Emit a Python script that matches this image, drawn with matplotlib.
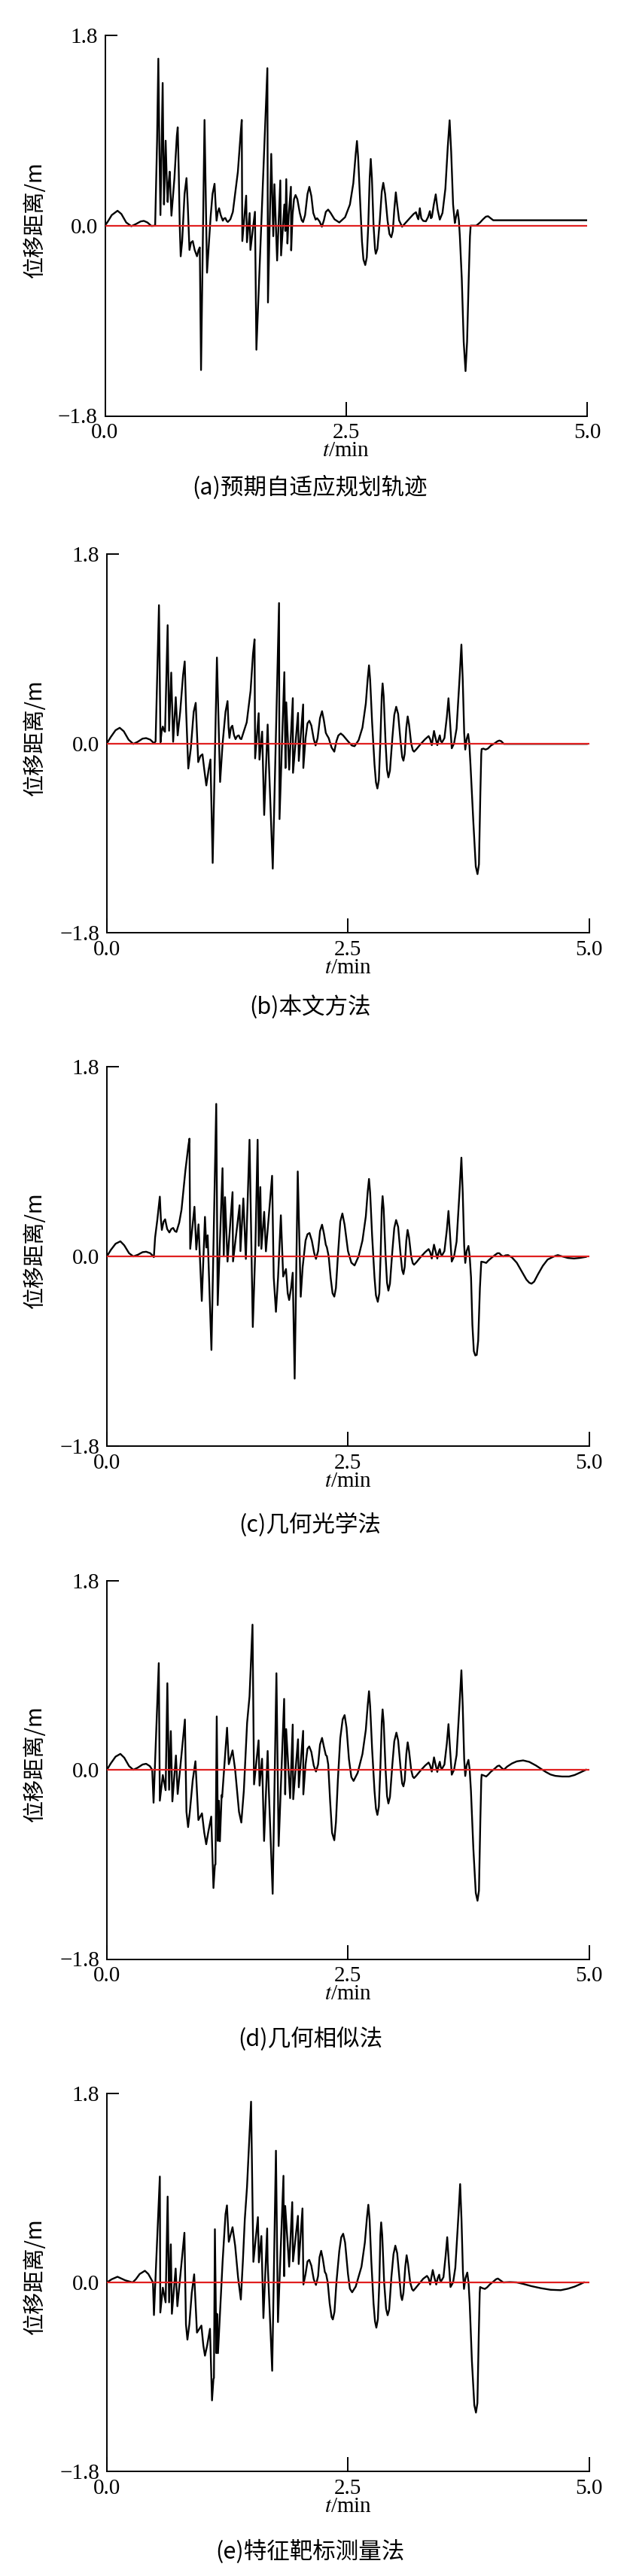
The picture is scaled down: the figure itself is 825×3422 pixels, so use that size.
import matplotlib
matplotlib.use("Agg")
import matplotlib.pyplot as plt
from matplotlib.ticker import FixedLocator, FixedFormatter

plt.rcParams['font.family'] = ['Liberation Serif', 'Noto Sans CJK SC', 'DejaVu Sans']
plt.rcParams['mathtext.fontset'] = 'stix'
plt.rcParams['axes.unicode_minus'] = True

# ---------------- data: (t / min, displacement / m) ----------------
pts_a = [(0.000,0.000),(0.030,0.040),(0.070,0.100),(0.130,0.141),(0.170,0.110),(0.220,0.030),(0.273,-0.005),
 (0.320,0.015),(0.370,0.040),(0.403,0.045),(0.440,0.030),(0.481,-0.003),(0.520,0.000),(0.540,0.800),(0.553,1.580),
 (0.563,0.800),(0.575,0.100),(0.586,0.700),(0.598,1.350),(0.605,0.700),(0.612,0.200),(0.620,0.500),(0.629,0.804),
 (0.640,0.450),(0.650,0.224),(0.660,0.400),(0.671,0.511),(0.680,0.300),(0.689,0.094),(0.720,0.450),(0.745,0.850),
 (0.754,0.930),(0.765,0.500),(0.775,0.000),(0.785,-0.290),(0.800,-0.150),(0.825,0.300),(0.845,0.450),(0.858,0.200),
 (0.876,-0.230),(0.892,-0.160),(0.910,-0.146),(0.930,-0.230),(0.954,-0.290),(0.970,-0.230),(0.983,-0.206),
 (0.996,-1.366),(1.032,1.000),(1.058,-0.445),(1.075,-0.200),(1.095,0.080),(1.115,0.300),(1.136,0.396),(1.147,0.200),
 (1.157,0.047),(1.170,0.130),(1.183,0.165),(1.200,0.100),(1.222,0.047),(1.235,0.068),(1.248,0.072),(1.262,0.045),
 (1.274,0.035),(1.300,0.060),(1.326,0.130),(1.378,0.510),(1.405,0.850),(1.418,1.000),(1.424,-0.146),(1.464,0.284),
 (1.472,-0.157),(1.500,0.119),(1.508,-0.230),(1.555,0.131),(1.570,-1.174),(1.684,1.490),(1.690,-0.727),(1.724,0.679),
 (1.745,-0.100),(1.757,0.392),(1.785,-0.330),(1.818,0.428),(1.826,-0.282),(1.860,0.200),(1.870,-0.050),(1.880,0.440),
 (1.892,-0.169),(1.905,0.100),(1.928,0.368),(1.931,-0.234),(1.945,0.100),(1.960,0.250),(1.976,0.290),(1.995,0.250),
 (2.020,0.120),(2.040,0.050),(2.054,0.034),(2.075,0.100),(2.100,0.300),(2.119,0.367),(2.140,0.280),(2.160,0.120),
 (2.184,0.057),(2.200,0.070),(2.225,0.040),(2.249,-0.010),(2.270,0.050),(2.290,0.130),(2.314,0.152),(2.340,0.120),
 (2.380,0.060),(2.430,0.030),(2.490,0.080),(2.540,0.200),(2.575,0.400),(2.600,0.680),(2.613,0.801),(2.625,0.650),
 (2.645,0.250),(2.665,-0.150),(2.680,-0.320),(2.699,-0.373),(2.715,-0.300),(2.730,0.000),(2.745,0.450),(2.756,0.631),
 (2.768,0.450),(2.785,0.000),(2.800,-0.220),(2.808,-0.266),(2.825,-0.220),(2.850,0.050),(2.870,0.320),(2.886,0.405),
 (2.905,0.300),(2.930,0.050),(2.950,-0.080),(2.969,-0.110),(2.985,-0.050),(3.000,0.150),(3.016,0.315),(3.030,0.200),
 (3.050,0.050),(3.081,-0.010),(3.120,0.030),(3.160,0.070),(3.200,0.110),(3.225,0.127),(3.240,0.080),(3.250,0.060),
 (3.265,0.165),(3.280,0.070),(3.300,0.045),(3.328,0.041),(3.350,0.080),(3.369,0.137),(3.380,0.070),(3.390,0.080),
 (3.410,0.200),(3.430,0.296),(3.450,0.150),(3.472,0.057),(3.500,0.120),(3.530,0.350),(3.555,0.750),(3.574,0.997),
 (3.590,0.700),(3.610,0.200),(3.628,0.025),(3.640,0.080),(3.657,0.147),(3.670,0.050),(3.680,-0.100),(3.700,-0.500),
 (3.720,-1.100),(3.739,-1.376),(3.755,-1.100),(3.772,-0.500),(3.785,-0.100),(3.792,0.000),(3.820,0.000),(3.850,0.000),
 (3.890,0.030),(3.920,0.060),(3.950,0.085),(3.973,0.089),(4.000,0.070),(4.026,0.051),(5.000,0.051)]

pts_b = [(0.000,0.000),(0.040,0.060),(0.090,0.125),(0.133,0.148),(0.175,0.115),(0.225,0.035),(0.274,-0.005),
 (0.320,0.015),(0.370,0.045),(0.407,0.050),(0.450,0.035),(0.490,0.000),(0.505,0.020),(0.540,1.314),(0.556,0.010),
 (0.568,0.120),(0.580,0.160),(0.592,0.120),(0.603,0.110),(0.630,1.124),(0.645,0.120),(0.667,0.673),(0.687,0.015),
 (0.714,0.439),(0.734,0.076),(0.760,0.300),(0.790,0.650),(0.807,0.779),(0.822,0.300),(0.844,-0.239),(0.870,-0.050),
 (0.900,0.300),(0.921,0.385),(0.947,-0.178),(0.970,-0.120),(0.991,-0.104),(1.010,-0.250),(1.031,-0.400),
 (1.055,-0.250),(1.074,-0.153),(1.097,-1.137),(1.141,0.816),(1.174,-0.367),(1.200,0.000),(1.230,0.300),(1.251,0.402),
 (1.262,0.150),(1.271,0.052),(1.286,0.150),(1.301,0.168),(1.318,0.080),(1.334,0.040),(1.352,0.070),(1.368,0.076),
 (1.382,0.045),(1.394,0.040),(1.450,0.200),(1.490,0.500),(1.515,0.850),(1.531,0.989),(1.537,-0.143),(1.574,0.287),
 (1.582,-0.155),(1.610,0.112),(1.631,-0.681),(1.667,0.179),(1.678,-0.139),(1.720,-1.191),(1.785,1.334),(1.790,-0.720),
 (1.840,0.677),(1.852,-0.234),(1.860,0.390),(1.890,-0.250),(1.928,0.430),(1.930,-0.280),(1.982,0.290),(1.990,-0.167),
 (2.035,0.370),(2.037,-0.234),(2.060,0.050),(2.080,0.190),(2.099,0.215),(2.120,0.170),(2.145,0.040),(2.164,-0.020),
 (2.185,0.050),(2.210,0.240),(2.231,0.306),(2.250,0.220),(2.270,0.100),(2.281,0.080),(2.300,0.050),(2.330,-0.040),
 (2.358,-0.079),(2.380,0.020),(2.400,0.075),(2.425,0.094),(2.450,0.075),(2.500,0.020),(2.540,-0.020),(2.568,-0.027),
 (2.610,0.030),(2.650,0.150),(2.685,0.380),(2.705,0.620),(2.718,0.742),(2.730,0.600),(2.750,0.200),(2.775,-0.200),
 (2.790,-0.370),(2.805,-0.429),(2.820,-0.350),(2.835,0.000),(2.850,0.450),(2.859,0.570),(2.870,0.450),(2.890,0.000),
 (2.905,-0.250),(2.919,-0.323),(2.935,-0.260),(2.960,0.050),(2.980,0.270),(3.000,0.348),(3.020,0.280),(3.045,0.020),
 (3.062,-0.130),(3.075,-0.165),(3.088,-0.100),(3.105,0.150),(3.119,0.256),(3.133,0.180),(3.155,0.000),(3.172,-0.065),
 (3.185,-0.079),(3.210,-0.055),(3.250,-0.010),(3.300,0.040),(3.336,0.069),(3.352,0.040),(3.369,-0.017),(3.380,0.050),
 (3.392,0.118),(3.408,0.050),(3.426,-0.017),(3.440,0.040),(3.452,0.076),(3.463,0.020),(3.475,0.010),(3.500,0.050),
 (3.525,0.250),(3.542,0.429),(3.558,0.200),(3.576,-0.047),(3.600,0.000),(3.626,0.140),(3.659,0.650),(3.676,0.939),
 (3.690,0.600),(3.705,0.100),(3.716,-0.059),(3.730,0.040),(3.746,0.089),(3.758,0.000),(3.770,-0.200),(3.800,-0.750),
 (3.825,-1.170),(3.843,-1.243),(3.858,-1.150),(3.872,-0.500),(3.882,-0.100),(3.886,-0.054),(3.905,-0.050),
 (3.926,-0.059),(3.950,-0.050),(3.983,-0.020),(4.020,0.000),(4.050,0.020),(4.070,0.027),(4.090,0.020),(4.116,-0.005),
 (4.977,-0.005)]

pts_c = [(0.000,0.000),(0.040,0.060),(0.090,0.120),(0.140,0.143),(0.180,0.105),(0.230,0.030),(0.274,0.000),
 (0.320,0.015),(0.370,0.040),(0.407,0.044),(0.450,0.030),(0.487,-0.007),(0.500,0.180),(0.523,0.347),(0.549,0.567),
 (0.560,0.350),(0.570,0.251),(0.588,0.330),(0.604,0.352),(0.625,0.260),(0.648,0.227),(0.668,0.260),(0.687,0.270),
 (0.705,0.240),(0.721,0.232),(0.750,0.320),(0.774,0.444),(0.814,0.814),(0.845,1.050),(0.856,1.117),(0.864,0.072),
 (0.908,0.471),(0.927,0.065),(0.950,0.304),(0.984,-0.423),(1.017,0.375),(1.031,0.084),(1.045,0.200),(1.084,-0.888),
 (1.134,1.447),(1.149,-0.462),(1.199,0.837),(1.212,0.000),(1.225,0.562),(1.251,-0.049),(1.303,0.610),(1.308,-0.048),
 (1.376,0.485),(1.385,0.050),(1.415,0.550),(1.441,-0.024),(1.479,1.107),(1.513,-0.670),(1.540,0.096),(1.563,1.107),
 (1.575,0.100),(1.591,0.658),(1.602,0.072),(1.631,0.423),(1.649,0.048),(1.713,0.765),(1.730,-0.200),(1.753,-0.526),
 (1.775,-0.200),(1.804,0.390),(1.828,-0.191),(1.857,-0.120),(1.875,-0.350),(1.890,-0.414),(1.910,-0.300),
 (1.927,-0.155),(1.947,-1.160),(1.979,0.806),(2.010,-0.383),(2.030,-0.100),(2.060,0.150),(2.080,0.210),(2.101,0.222),
 (2.125,0.150),(2.150,0.030),(2.168,-0.024),(2.190,0.050),(2.210,0.240),(2.231,0.301),(2.250,0.220),(2.270,0.110),
 (2.281,0.086),(2.300,0.000),(2.320,-0.200),(2.340,-0.350),(2.358,-0.382),(2.375,-0.300),(2.395,0.000),(2.420,0.330),
 (2.442,0.407),(2.465,0.300),(2.500,0.050),(2.535,-0.060),(2.568,-0.086),(2.610,0.000),(2.650,0.150),(2.685,0.380),
 (2.705,0.620),(2.718,0.735),(2.730,0.600),(2.750,0.200),(2.775,-0.200),(2.790,-0.370),(2.809,-0.431),(2.825,-0.350),
 (2.838,0.000),(2.850,0.450),(2.859,0.572),(2.870,0.450),(2.890,0.000),(2.905,-0.250),(2.919,-0.325),(2.935,-0.260),
 (2.960,0.050),(2.980,0.270),(2.999,0.345),(3.020,0.280),(3.045,0.020),(3.062,-0.130),(3.075,-0.168),(3.088,-0.100),
 (3.105,0.150),(3.118,0.251),(3.133,0.180),(3.155,0.000),(3.172,-0.065),(3.185,-0.079),(3.210,-0.055),(3.250,-0.010),
 (3.300,0.040),(3.336,0.069),(3.352,0.040),(3.369,-0.020),(3.380,0.050),(3.392,0.111),(3.408,0.050),(3.426,-0.020),
 (3.440,0.040),(3.452,0.069),(3.463,0.020),(3.475,0.010),(3.500,0.050),(3.525,0.250),(3.542,0.431),(3.558,0.200),
 (3.576,-0.049),(3.600,0.000),(3.626,0.140),(3.659,0.650),(3.676,0.937),(3.690,0.600),(3.705,0.100),(3.716,-0.062),
 (3.730,0.050),(3.749,0.099),(3.762,0.000),(3.776,-0.200),(3.790,-0.650),(3.805,-0.900),(3.820,-0.940),
 (3.835,-0.935),(3.850,-0.800),(3.868,-0.300),(3.882,-0.050),(3.910,-0.055),(3.933,-0.062),(3.955,-0.040),
 (3.980,-0.020),(4.020,0.010),(4.050,0.030),(4.069,0.030),(4.090,0.010),(4.110,0.000),(4.135,0.010),(4.160,0.012),
 (4.200,-0.010),(4.250,-0.060),(4.300,-0.140),(4.350,-0.220),(4.380,-0.250),(4.403,-0.259),(4.430,-0.240),
 (4.470,-0.170),(4.520,-0.090),(4.570,-0.030),(4.610,-0.012),(4.650,0.005),(4.676,0.012),(4.720,0.000),
 (4.780,-0.015),(4.843,-0.020),(4.900,-0.015),(4.967,-0.005)]

pts_d = [(0.000,0.000),(0.040,0.060),(0.090,0.125),(0.140,0.151),(0.180,0.115),(0.230,0.035),(0.274,0.000),
 (0.320,0.020),(0.370,0.050),(0.407,0.057),(0.445,0.035),(0.470,0.000),(0.484,-0.313),(0.538,1.014),(0.549,-0.294),
 (0.580,-0.050),(0.609,-0.194),(0.627,0.823),(0.645,-0.190),(0.663,0.368),(0.679,-0.301),(0.716,0.136),(0.734,-0.230),
 (0.809,0.478),(0.825,-0.400),(0.842,-0.545),(0.860,-0.400),(0.890,-0.100),(0.918,0.081),(0.949,-0.478),
 (0.986,-0.414),(1.010,-0.600),(1.030,-0.708),(1.050,-0.600),(1.082,-0.445),(1.105,-1.124),(1.120,-0.904),
 (1.126,-0.900),(1.139,0.507),(1.152,-0.677),(1.162,-0.294),(1.172,-0.680),(1.190,-0.240),(1.195,-0.260),
 (1.246,0.400),(1.264,0.053),(1.303,0.184),(1.330,0.000),(1.370,-0.400),(1.394,-0.502),(1.420,-0.200),(1.454,0.447),
 (1.479,0.698),(1.510,1.380),(1.526,-0.139),(1.573,0.280),(1.583,-0.151),(1.609,0.105),(1.630,-0.677),(1.667,0.179),
 (1.677,-0.139),(1.719,-1.179),(1.758,0.918),(1.781,-0.725),(1.838,0.674),(1.849,-0.234),(1.859,0.387),(1.900,-0.270),
 (1.927,0.430),(1.932,-0.280),(1.982,0.290),(1.990,-0.167),(2.035,0.370),(2.037,-0.234),(2.060,0.050),(2.080,0.200),
 (2.098,0.222),(2.120,0.170),(2.145,0.040),(2.168,-0.017),(2.190,0.050),(2.210,0.240),(2.231,0.303),(2.250,0.220),
 (2.270,0.140),(2.281,0.130),(2.295,0.050),(2.315,-0.300),(2.335,-0.600),(2.358,-0.670),(2.375,-0.500),
 (2.395,-0.100),(2.420,0.300),(2.445,0.480),(2.465,0.520),(2.485,0.400),(2.510,0.100),(2.535,-0.070),(2.558,-0.106),
 (2.600,-0.030),(2.650,0.150),(2.685,0.380),(2.705,0.620),(2.718,0.747),(2.730,0.600),(2.750,0.200),(2.775,-0.200),
 (2.790,-0.370),(2.805,-0.429),(2.820,-0.350),(2.835,0.000),(2.850,0.450),(2.859,0.574),(2.870,0.450),(2.890,0.000),
 (2.905,-0.250),(2.919,-0.320),(2.935,-0.260),(2.960,0.050),(2.980,0.270),(3.002,0.353),(3.020,0.280),(3.045,0.020),
 (3.062,-0.130),(3.075,-0.158),(3.088,-0.100),(3.105,0.150),(3.119,0.261),(3.133,0.180),(3.155,0.000),(3.172,-0.065),
 (3.185,-0.079),(3.210,-0.055),(3.250,-0.010),(3.300,0.040),(3.336,0.069),(3.352,0.040),(3.369,-0.017),(3.380,0.050),
 (3.392,0.118),(3.408,0.050),(3.426,-0.020),(3.440,0.040),(3.452,0.076),(3.463,0.020),(3.475,0.010),(3.500,0.050),
 (3.525,0.250),(3.542,0.434),(3.558,0.200),(3.576,-0.047),(3.600,0.000),(3.626,0.140),(3.659,0.660),(3.676,0.946),
 (3.690,0.600),(3.705,0.100),(3.716,-0.059),(3.730,0.040),(3.749,0.094),(3.762,0.000),(3.775,-0.200),(3.800,-0.750),
 (3.825,-1.170),(3.843,-1.245),(3.858,-1.150),(3.872,-0.500),(3.882,-0.100),(3.886,-0.047),(3.910,-0.055),
 (3.933,-0.064),(3.955,-0.045),(3.980,-0.020),(4.020,0.010),(4.050,0.035),(4.069,0.040),(4.090,0.020),(4.116,0.000),
 (4.150,0.030),(4.200,0.060),(4.250,0.080),(4.316,0.089),(4.380,0.075),(4.450,0.040),(4.500,0.010),(4.550,-0.020),
 (4.600,-0.045),(4.650,-0.058),(4.720,-0.064),(4.793,-0.064),(4.850,-0.050),(4.910,-0.025),(4.967,0.000)]

pts_e = [(0.000,0.000),(0.050,0.030),(0.110,0.054),(0.190,0.020),(0.267,0.000),(0.300,0.030),(0.340,0.080),
 (0.394,0.111),(0.430,0.080),(0.460,0.030),(0.478,0.000),(0.488,-0.311),(0.549,1.009),(0.554,-0.287),(0.580,-0.050),
 (0.609,-0.190),(0.630,0.818),(0.645,-0.190),(0.663,0.363),(0.674,-0.299),(0.713,0.132),(0.731,-0.227),(0.804,0.473),
 (0.820,-0.400),(0.835,-0.545),(0.855,-0.400),(0.880,-0.100),(0.905,0.077),(0.934,-0.478),(0.980,-0.411),
 (1.000,-0.600),(1.017,-0.698),(1.040,-0.600),(1.069,-0.442),(1.090,-1.124),(1.105,-0.920),(1.110,-0.910),
 (1.120,0.507),(1.135,-0.674),(1.142,-0.299),(1.152,-0.674),(1.194,0.084),(1.200,0.200),(1.230,0.650),(1.245,0.734),
 (1.264,0.387),(1.303,0.526),(1.330,0.350),(1.360,0.050),(1.389,-0.163),(1.410,0.200),(1.430,0.600),(1.453,0.909),
 (1.495,1.722),(1.519,0.196),(1.566,0.622),(1.576,0.191),(1.602,0.442),(1.623,-0.340),(1.662,0.514),(1.667,0.191),
 (1.714,-0.842),(1.753,1.255),(1.774,-0.378),(1.831,1.016),(1.838,0.060),(1.849,0.729),(1.890,0.150),(1.922,0.765),
 (1.930,0.200),(1.981,0.634),(1.989,0.175),(2.028,0.705),(2.038,-0.020),(2.060,0.080),(2.080,0.200),(2.098,0.215),
 (2.120,0.160),(2.145,0.030),(2.168,-0.024),(2.190,0.060),(2.205,0.240),(2.222,0.301),(2.240,0.220),(2.260,0.100),
 (2.273,0.079),(2.290,0.000),(2.310,-0.200),(2.330,-0.330),(2.343,-0.353),(2.360,-0.280),(2.380,0.000),(2.410,0.300),
 (2.430,0.430),(2.450,0.464),(2.470,0.380),(2.500,0.080),(2.520,-0.060),(2.543,-0.094),(2.580,-0.040),(2.640,0.150),
 (2.675,0.380),(2.697,0.620),(2.711,0.740),(2.724,0.600),(2.742,0.200),(2.765,-0.200),(2.780,-0.370),(2.794,-0.431),
 (2.810,-0.350),(2.825,0.000),(2.836,0.450),(2.844,0.572),(2.855,0.450),(2.875,0.000),(2.895,-0.250),(2.911,-0.313),
 (2.927,-0.260),(2.950,0.050),(2.972,0.270),(2.991,0.350),(3.010,0.280),(3.035,0.020),(3.050,-0.130),(3.061,-0.168),
 (3.075,-0.100),(3.094,0.150),(3.108,0.259),(3.122,0.180),(3.145,0.000),(3.165,-0.065),(3.178,-0.079),(3.200,-0.055),
 (3.240,-0.010),(3.280,0.035),(3.319,0.062),(3.335,0.040),(3.352,-0.020),(3.365,0.050),(3.379,0.118),(3.395,0.050),
 (3.415,-0.020),(3.430,0.040),(3.446,0.074),(3.455,0.020),(3.465,0.010),(3.490,0.050),(3.512,0.250),(3.529,0.431),
 (3.545,0.200),(3.563,-0.044),(3.590,0.000),(3.613,0.140),(3.646,0.650),(3.663,0.937),(3.677,0.600),(3.692,0.100),
 (3.703,-0.062),(3.718,0.040),(3.737,0.094),(3.750,0.000),(3.762,-0.200),(3.785,-0.750),(3.810,-1.170),
 (3.827,-1.240),(3.842,-1.150),(3.856,-0.500),(3.866,-0.100),(3.870,-0.044),(3.895,-0.055),(3.920,-0.062),
 (3.945,-0.045),(3.970,-0.020),(4.010,0.010),(4.035,0.030),(4.054,0.037),(4.080,0.020),(4.111,0.000),(4.180,0.003),
 (4.250,0.000),(4.320,-0.015),(4.400,-0.035),(4.500,-0.055),(4.600,-0.070),(4.706,-0.074),(4.780,-0.060),
 (4.850,-0.040),(4.900,-0.020),(4.946,0.000)]

ref_t = [0.0, 5.0]          # red zero reference line
ref_v = [0.0, 0.0]

captions = ["(a)预期自适应规划轨迹", "(b)本文方法", "(c)几何光学法", "(d)几何相似法", "(e)特征靶标测量法"]
y_ticks = [-1.8, 0.0, 1.8]
y_tick_labels = ["\u22121.8", "0.0", "1.8"]
x_ticks = [0.0, 2.5, 5.0]
x_tick_labels = ["0.0", "2.5", "5.0"]
series = [pts_a, pts_b, pts_c, pts_d, pts_e]

# ---------------- layout (pixels) ----------------
W, H = 825, 3422
fig = plt.figure(figsize=(W / 100, H / 100), dpi=100)
geom = [  # left, right, top, bottom, caption_y
    (139.5, 780.0, 47.0, 552.5, 648),
    (142.0, 782.6, 736.0, 1239.0, 1338),
    (142.0, 782.6, 1417.0, 1921.0, 2026),
    (142.0, 782.6, 2099.5, 2602.5, 2709),
    (142.0, 782.6, 2781.0, 3283.0, 3390),
]

for pts, cap, (l, r, tp, bt, cy) in zip(series, captions, geom):
    t = [p[0] for p in pts]
    v = [p[1] for p in pts]
    ax = fig.add_axes([l / W, 1 - bt / H, (r - l) / W, (bt - tp) / H])
    ax.plot(t, v, color='black', lw=1.7, solid_joinstyle='round', zorder=2)
    ax.plot(ref_t, ref_v, color='#e02020', lw=1.6, zorder=3)
    ax.set_xlim(0, 5)
    ax.set_ylim(-1.8, 1.8)
    for s in ['top', 'right']:
        ax.spines[s].set_visible(False)
    for s in ['left', 'bottom']:
        ax.spines[s].set_linewidth(1.4)
    ax.xaxis.set_major_locator(FixedLocator(x_ticks))
    ax.xaxis.set_major_formatter(FixedFormatter(x_tick_labels))
    ax.yaxis.set_major_locator(FixedLocator(y_ticks))
    ax.yaxis.set_major_formatter(FixedFormatter(y_tick_labels))
    ax.tick_params(axis='x', direction='in', length=13.5, width=1.4, pad=7, labelsize=21)
    ax.tick_params(axis='y', direction='in', length=11.5, width=1.4, pad=7, labelsize=21)
    for lab in ax.get_xticklabels() + ax.get_yticklabels():
        lab.set_family(['Liberation Serif'])
    fig.text(((l + r) / 2) / W, 1 - (bt + 47) / H, r'$t$/min', ha='center', va='center',
             fontsize=21, family=['Liberation Serif'])
    fig.text(47 / W, 1 - ((tp + bt) / 2 - 8) / H, '位移距离/m', rotation=90, ha='center', va='center',
             fontsize=21, family=['Noto Sans CJK SC', 'Liberation Serif'])
    fig.text(412 / W, 1 - cy / H, cap, ha='center', va='center', fontsize=22,
             family=['Noto Sans CJK SC', 'DejaVu Sans'])

fig.savefig('out.png', dpi=100)
